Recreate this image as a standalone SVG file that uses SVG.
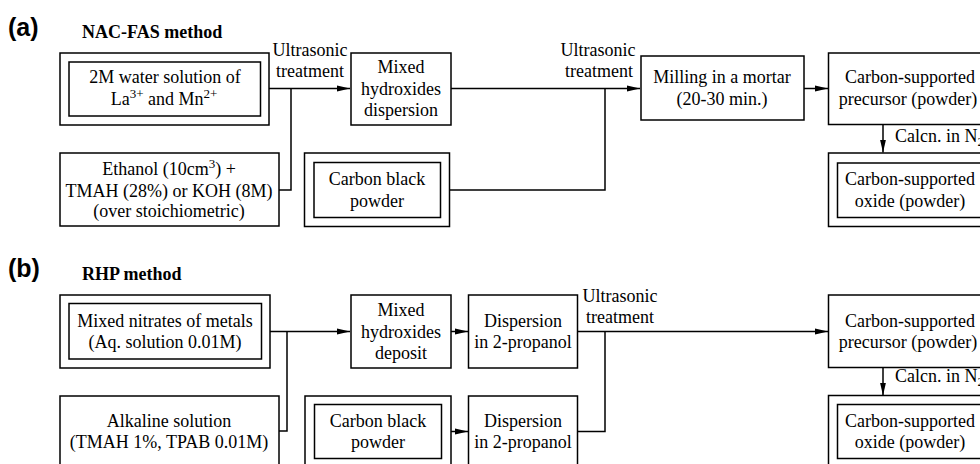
<svg xmlns="http://www.w3.org/2000/svg" width="980" height="464" viewBox="0 0 980 464">
<defs>
<marker id="ah" markerUnits="userSpaceOnUse" markerWidth="14" markerHeight="8" refX="13" refY="4" orient="auto">
<path d="M0,1 L13,4 L0,7 z" fill="#000"/>
</marker>
<style>
.b{fill:#fff;stroke:#000;stroke-width:1.5}
.c{fill:none;stroke:#000;stroke-width:1.5}
.t{font-family:"Liberation Serif","Times New Roman",serif;font-size:18px;fill:#000;text-anchor:middle}
.h{font-family:"Liberation Serif","Times New Roman",serif;font-size:18px;font-weight:bold;fill:#000}
.p{font-family:"Liberation Sans",Arial,sans-serif;font-size:25px;font-weight:bold;fill:#000}
.s{font-size:13px}
</style>
</defs>
<rect width="980" height="464" fill="#fff"/>

<text class="p" x="8" y="36">(a)</text>
<text class="h" x="82" y="38">NAC-FAS method</text>
<text class="p" x="8" y="277">(b)</text>
<text class="h" x="82" y="280">RHP method</text>

<g id="connectors">
<!-- (a) -->
<polyline class="c" points="269,88.5 350,88.5" marker-end="url(#ah)"/>
<polyline class="c" points="279,190 291,190 291,88.5"/>
<polyline class="c" points="451,88.5 640,88.5" marker-end="url(#ah)"/>
<polyline class="c" points="449,190 605,190 605,88.5"/>
<polyline class="c" points="804,88.5 828,88.5" marker-end="url(#ah)"/>
<polyline class="c" points="883,124.5 883,152.5" marker-end="url(#ah)"/>
<text class="t" x="310" y="56">Ultrasonic</text>
<text class="t" x="310" y="77">treatment</text>
<text class="t" x="598" y="56">Ultrasonic</text>
<text class="t" x="599" y="77">treatment</text>
<text class="t" x="895" y="142" style="text-anchor:start">Calcn. in N<tspan class="s" dy="4">2</tspan></text>
<!-- (b) -->
<polyline class="c" points="270,331.5 350,331.5" marker-end="url(#ah)"/>
<polyline class="c" points="279,431 287,431 287,331.5"/>
<polyline class="c" points="451,331.5 468,331.5" marker-end="url(#ah)"/>
<polyline class="c" points="451,431.5 468,431.5" marker-end="url(#ah)"/>
<polyline class="c" points="578,331.5 828,331.5" marker-end="url(#ah)"/>
<polyline class="c" points="578,431.5 605,431.5 605,331.5"/>
<polyline class="c" points="883,367.5 883,395.5" marker-end="url(#ah)"/>
<text class="t" x="620" y="302">Ultrasonic</text>
<text class="t" x="620" y="323">treatment</text>
<text class="t" x="895" y="382" style="text-anchor:start">Calcn. in N<tspan class="s" dy="4">2</tspan></text>
</g>

<g id="a-water">
<rect class="b" x="60" y="53" width="209" height="72"/>
<rect class="b" x="69" y="62" width="191.5" height="54"/>
<text class="t" x="165" y="83">2M water solution of</text>
<text class="t" x="164" y="105">La<tspan class="s" dy="-7">3+</tspan><tspan dy="7"> and Mn</tspan><tspan class="s" dy="-7">2+</tspan></text>
</g>
<g id="a-ethanol">
<rect class="b" x="60" y="153" width="219" height="73"/>
<text class="t" x="169" y="175">Ethanol (10cm<tspan class="s" dy="-7">3</tspan><tspan dy="7">) +</tspan></text>
<text class="t" x="169" y="196.5">TMAH (28%) or KOH (8M)</text>
<text class="t" x="169" y="217">(over stoichiometric)</text>
</g>
<g id="a-hydroxides">
<rect class="b" x="351" y="53" width="100" height="72"/>
<text class="t" x="401" y="73">Mixed</text>
<text class="t" x="401" y="94.5">hydroxides</text>
<text class="t" x="401" y="115.5">dispersion</text>
</g>
<g id="a-carbon">
<rect class="b" x="304.5" y="153" width="145" height="73.5"/>
<rect class="b" x="314" y="162.5" width="126.5" height="55"/>
<text class="t" x="377" y="185">Carbon black</text>
<text class="t" x="377" y="206.5">powder</text>
</g>
<g id="a-milling">
<rect class="b" x="641" y="56" width="163" height="64"/>
<text class="t" x="722" y="83">Milling in a mortar</text>
<text class="t" x="722" y="105">(20-30 min.)</text>
</g>
<g id="a-precursor">
<rect class="b" x="828.5" y="53" width="170" height="71.5"/>
<text class="t" x="910" y="83">Carbon-supported</text>
<text class="t" x="908" y="105">precursor (powder)</text>
</g>
<g id="a-oxide">
<rect class="b" x="828.5" y="153" width="170" height="73.5"/>
<rect class="b" x="837.5" y="163" width="155" height="54.5"/>
<text class="t" x="910" y="185">Carbon-supported</text>
<text class="t" x="910" y="206.5">oxide (powder)</text>
</g>

<g id="b-nitrates">
<rect class="b" x="60" y="295" width="210" height="73"/>
<rect class="b" x="69" y="303.5" width="192.5" height="55.5"/>
<text class="t" x="165" y="326.5">Mixed nitrates of metals</text>
<text class="t" x="165" y="348">(Aq. solution 0.01M)</text>
</g>
<g id="b-alkaline">
<rect class="b" x="60" y="396" width="219" height="75"/>
<text class="t" x="169" y="426.5">Alkaline solution</text>
<text class="t" x="169" y="448">(TMAH 1%, TPAB 0.01M)</text>
</g>
<g id="b-hydroxides">
<rect class="b" x="351" y="295" width="100" height="73"/>
<text class="t" x="401" y="316">Mixed</text>
<text class="t" x="401" y="337.5">hydroxides</text>
<text class="t" x="401" y="358.5">deposit</text>
</g>
<g id="b-dispersion1">
<rect class="b" x="468.5" y="295" width="109" height="73"/>
<text class="t" x="523" y="326.5">Dispersion</text>
<text class="t" x="523" y="348">in 2-propanol</text>
</g>
<g id="b-carbon">
<rect class="b" x="305" y="396" width="146" height="75"/>
<rect class="b" x="314.5" y="404.5" width="127" height="54"/>
<text class="t" x="378" y="426.5">Carbon black</text>
<text class="t" x="378" y="448">powder</text>
</g>
<g id="b-dispersion2">
<rect class="b" x="468.5" y="396" width="109" height="75"/>
<text class="t" x="523" y="426.5">Dispersion</text>
<text class="t" x="523" y="448">in 2-propanol</text>
</g>
<g id="b-precursor">
<rect class="b" x="828.5" y="295" width="170" height="72.5"/>
<text class="t" x="910" y="326.5">Carbon-supported</text>
<text class="t" x="908" y="348">precursor (powder)</text>
</g>
<g id="b-oxide">
<rect class="b" x="828.5" y="395.5" width="170" height="75"/>
<rect class="b" x="837.5" y="404.5" width="155" height="54"/>
<text class="t" x="910" y="426.5">Carbon-supported</text>
<text class="t" x="910" y="448">oxide (powder)</text>
</g>
</svg>
